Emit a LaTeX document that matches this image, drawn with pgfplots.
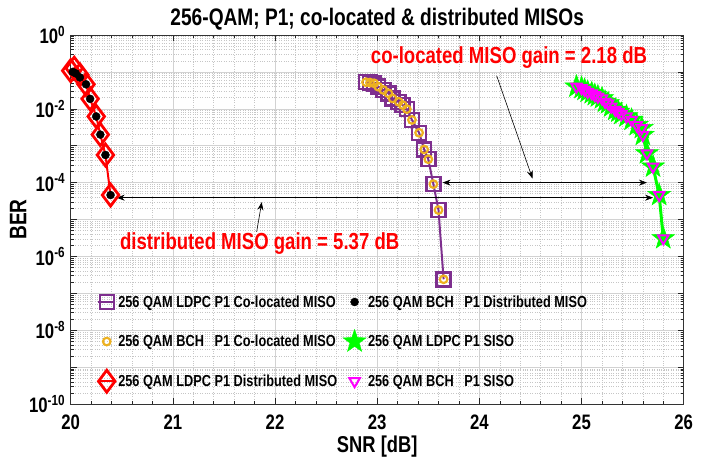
\documentclass[border=0pt]{standalone}
\usepackage{fontspec}
\setmainfont{Liberation Sans}[FakeStretch=0.8]
\usepackage{pgfplots}
\pgfplotsset{compat=1.18}
\usetikzlibrary{arrows.meta}
\definecolor{mpurple}{rgb}{0.494,0.184,0.556}
\definecolor{morange}{rgb}{0.929,0.694,0.125}
\definecolor{mgreen}{rgb}{0,1,0}
\definecolor{mmag}{rgb}{1,0,1}
\pgfdeclareplotmark{pentastar}{%
  \pgfpathmoveto{\pgfpointpolar{90}{\pgfplotmarksize}}%
  \pgfpathlineto{\pgfpointpolar{126}{0.40\pgfplotmarksize}}%
  \pgfpathlineto{\pgfpointpolar{162}{\pgfplotmarksize}}%
  \pgfpathlineto{\pgfpointpolar{198}{0.40\pgfplotmarksize}}%
  \pgfpathlineto{\pgfpointpolar{234}{\pgfplotmarksize}}%
  \pgfpathlineto{\pgfpointpolar{270}{0.40\pgfplotmarksize}}%
  \pgfpathlineto{\pgfpointpolar{306}{\pgfplotmarksize}}%
  \pgfpathlineto{\pgfpointpolar{342}{0.40\pgfplotmarksize}}%
  \pgfpathlineto{\pgfpointpolar{18}{\pgfplotmarksize}}%
  \pgfpathlineto{\pgfpointpolar{54}{0.40\pgfplotmarksize}}%
  \pgfpathclose\pgfusepathqfillstroke}

\pgfplotstableread{
x y
22.89 0.0525
22.93 0.0513
22.97 0.049
23.01 0.0398
23.06 0.0324
23.11 0.0263
23.15 0.0191
23.21 0.0155
23.25 0.0126
23.29 0.0098
23.34 0.0050
23.41 0.00224
23.46 7.9e-4
23.50 4.3e-4
23.55 9.1e-5
23.60 1.8e-5
23.65 2.4e-7
}\colocated

\pgfplotstableread{
x y
20.00 0.108
20.035 0.126
20.09 0.083
20.15 0.046
20.19 0.0186
20.25 0.0062
20.29 0.0020
20.34 5.6e-4
20.39 4.6e-5
}\distldpc

\pgfplotstableread{
x y
19.99 0.108
20.02 0.100
20.05 0.091
20.09 0.071
20.15 0.046
20.19 0.0186
20.25 0.0062
20.29 0.0020
20.34 5.6e-4
20.39 4.6e-5
}\distbch

\pgfplotstableread{
x y
24.95 0.0398
25.00 0.0363
25.03 0.0324
25.06 0.0288
25.10 0.0263
25.13 0.0234
25.16 0.0214
25.20 0.0191
25.23 0.0155
25.26 0.0141
25.29 0.0115
25.33 0.0093
25.36 0.0083
25.39 0.0072
25.44 0.0062
25.49 0.0050
25.54 0.0036
25.59 0.0030
25.60 0.00195
25.64 6.2e-4
25.70 2.7e-4
25.76 4.6e-5
25.80 3.1e-6
}\siso

\begin{document}
\begin{tikzpicture}
\begin{axis}[
  at={(0,0)}, anchor=south west,
  scale only axis, width=613bp, height=369bp,
  ymode=log, xmin=20, xmax=26, ymin=1e-10, ymax=1,
  xtick={20,21,22,23,24,25,26},
  xticklabels={20,21,22,23,24,25,26},
  ytick={1e-10,1e-9,1e-8,1e-7,1e-6,1e-5,1e-4,1e-3,1e-2,1e-1,1},
  yticklabels={10\textsuperscript{-10},,10\textsuperscript{-8},,10\textsuperscript{-6},,10\textsuperscript{-4},,10\textsuperscript{-2},,10\textsuperscript{0}},
  minor x tick num=4,
  tick align=inside, major tick length=6bp, minor tick length=3bp,
  tick style={black!85, line width=0.5pt},
  axis line style={black!80, line width=0.8pt},
  grid=both,
  major grid style={gray!35, line width=0.6pt},
  minor grid style={gray!45, dotted, line width=0.5pt},
  ticklabel style={font=\bfseries\fontsize{21}{24}\selectfont},
  xticklabel style={inner sep=0pt, yshift=-11bp},
  yticklabel style={xshift=-2bp},
  xlabel={SNR [dB]}, ylabel={BER},
  xlabel style={font=\bfseries\fontsize{23}{26}\selectfont, at={(axis description cs:0.5,0)}, anchor=north, inner sep=0pt, yshift=-32bp},
  ylabel style={font=\bfseries\fontsize{24}{27}\selectfont, yshift=-4bp},
  title={256-QAM; P1; co-located \& distributed MISOs},
  title style={font=\bfseries\fontsize{24}{28}\selectfont, yshift=-5bp},
  legend columns=2,
  legend cell align=left,
  legend style={at={(rel axis cs:0.043,0.30)}, anchor=north west, draw=none, fill=none,
    font=\bfseries\fontsize{16}{19}\selectfont, row sep=19bp,
    /tikz/every even column/.append style={column sep=4bp},
    inner sep=0pt},
]
% plots
\addplot[mpurple, line width=2pt, mark=square, mark size=7bp, mark options={line width=2.5pt}, forget plot] table {\colocated};
\addplot[morange, only marks, mark=o, mark size=3.8bp, mark options={line width=2.2pt}, forget plot] table {\colocated};
\addplot[red, line width=2pt, mark=diamond, mark size=11bp, mark options={line width=2.8pt}, forget plot] table {\distldpc};
\addplot[black, only marks, mark=*, mark size=4bp, forget plot] table {\distbch};
\addplot[mgreen, line width=3pt, mark=pentastar, mark size=12bp, mark options={fill=mgreen, line width=0.5pt}, forget plot] table {\siso};
\addplot[mmag, only marks, mark=triangle, mark size=6bp, mark options={rotate=180, line width=2pt}, forget plot] table {\siso};
% legend
\addlegendimage{mpurple, line width=2pt, mark=square, mark size=7bp, mark options={line width=2.5pt}}
\addlegendentry{256 QAM LDPC P1 Co-located MISO}
\addlegendimage{black, only marks, mark=*, mark size=4bp}
\addlegendentry{256 QAM BCH\ \ \ P1 Distributed MISO}
\addlegendimage{morange, only marks, mark=o, mark size=3.8bp, mark options={line width=2.2pt}}
\addlegendentry{256 QAM BCH\ \ \ P1 Co-located MISO}
\addlegendimage{mgreen, only marks, mark=pentastar, mark size=12bp, mark options={fill=mgreen, line width=0.5pt}}
\addlegendentry{256 QAM LDPC P1 SISO}
\addlegendimage{red, line width=2pt, mark=diamond, mark size=11bp, mark options={line width=2.8pt}}
\addlegendentry{256 QAM LDPC P1 Distributed MISO}
\addlegendimage{mmag, only marks, mark=triangle, mark size=6bp, mark options={rotate=180, line width=2pt}}
\addlegendentry{256 QAM BCH\ \ \ P1 SISO}
% annotations
\draw[black, line width=0.6pt, {Stealth[length=8bp,width=6bp]}-{Stealth[length=8bp,width=6bp]}] (axis cs:23.64,1e-4) -- (axis cs:25.64,1e-4);
\draw[black, line width=0.6pt, {Stealth[length=8bp,width=6bp]}-{Stealth[length=8bp,width=6bp]}] (axis cs:20.45,3.9e-5) -- (axis cs:25.70,3.9e-5);
\draw[black, line width=0.6pt, -{Stealth[length=8bp,width=6bp]}] (axis cs:21.82,4.6e-6) -- (axis cs:21.87,2.95e-5);
\draw[black, line width=0.6pt, -{Stealth[length=8bp,width=6bp]}] (axis cs:24.17,0.078) -- (axis cs:24.52,1.29e-4);
\node[red, font=\bfseries\fontsize{23.3}{26}\selectfont] at (axis cs:24.29,0.24) {co-located MISO gain = 2.18 dB};
\node[red, font=\bfseries\fontsize{23.3}{26}\selectfont] at (axis cs:21.85,2.3e-6) {distributed MISO gain = 5.37 dB};
\end{axis}
\useasboundingbox (-70.7bp,-54bp) rectangle (642.3bp,404bp);
\end{tikzpicture}
\end{document}
